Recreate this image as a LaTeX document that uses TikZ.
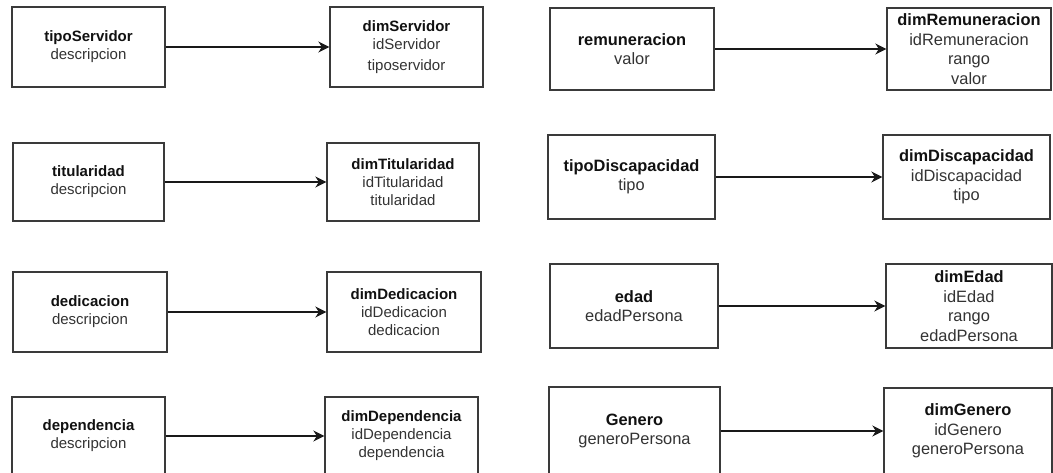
\documentclass[tikz,border=0pt]{standalone}
\usepackage{fontspec}
\setmainfont{Liberation Sans}
\usetikzlibrary{arrows.meta}
\definecolor{edge}{HTML}{3A3A3A}
\definecolor{txt}{HTML}{333333}
\definecolor{head}{HTML}{111111}
\newcommand{\hd}[1]{{\bfseries\color{head}#1}}
\tikzset{
  tbl/.style={draw=edge, line width=1.3pt, fill=white, rectangle, inner sep=0pt,
    align=center, text=txt},
  tblL/.style={tbl, font=\fontsize{15}{18}\selectfont},
  tblR/.style={tbl, font=\fontsize{16.4}{19.5}\selectfont},
  flow/.style={draw=black!90, line width=1.5pt,
    -{Stealth[length=11pt, width=11pt, inset=3.5pt]}}
}
\begin{document}
\begin{tikzpicture}[x=1pt, y=-1pt]
\useasboundingbox (0,0) rectangle (1053,472);
\clip (0,0) rectangle (1053,472);

% left column: source tables and their dimensions
\node[tblL, minimum width=153pt, minimum height=80pt] (ts) at (88.5,47)
  {\hd{tipoServidor}\\descripcion};
\node[tblL, minimum width=153pt, minimum height=80pt] (dts) at (406.5,47)
  {\hd{dimServidor}\\idServidor\\[3pt]tiposervidor};

\node[tblL, minimum width=151pt, minimum height=78pt] (tit) at (88.5,182)
  {\hd{titularidad}\\descripcion};
\node[tblL, minimum width=152pt, minimum height=78pt] (dtit) at (403,182)
  {\hd{dimTitularidad}\\idTitularidad\\titularidad};

\node[tblL, minimum width=154pt, minimum height=80pt] (ded) at (90,312)
  {\hd{dedicacion}\\descripcion};
\node[tblL, minimum width=154pt, minimum height=80pt] (dded) at (404,312)
  {\hd{dimDedicacion}\\idDedicacion\\dedicacion};

\node[tblL, minimum width=153pt, minimum height=78pt] (dep) at (88.5,436)
  {\hd{dependencia}\\descripcion};
\node[tblL, minimum width=153pt, minimum height=78pt] (ddep) at (401.5,436)
  {\hd{dimDependencia}\\idDependencia\\dependencia};

% right column
\node[tblR, minimum width=164pt, minimum height=82pt] (rem) at (632,49)
  {\hd{remuneracion}\\valor};
\node[tblR, minimum width=164pt, minimum height=82pt] (drem) at (969,49)
  {\hd{dimRemuneracion}\\idRemuneracion\\rango\\valor};

\node[tblR, minimum width=167pt, minimum height=84pt] (tdis) at (631.5,177)
  {\hd{tipoDiscapacidad}\\tipo};
\node[tblR, minimum width=167pt, minimum height=84pt] (ddis) at (966.5,177)
  {\hd{dimDiscapacidad}\\idDiscapacidad\\tipo};

\node[tblR, minimum width=168pt, minimum height=84pt] (edad) at (634,306)
  {\hd{edad}\\edadPersona};
\node[tblR, minimum width=166pt, minimum height=84pt] (dedad) at (969,306)
  {\hd{dimEdad}\\idEdad\\rango\\edadPersona};

\node[tblR, minimum width=171pt, minimum height=88pt] (gen) at (634.5,431)
  {\hd{Genero}\\generoPersona};
\node[tblR, minimum width=168pt, minimum height=86pt] (dgen) at (968,431)
  {\hd{dimGenero}\\idGenero\\generoPersona};

% transformations
\draw[flow] (ts) -- (dts);
\draw[flow] (tit) -- (dtit);
\draw[flow] (ded) -- (dded);
\draw[flow] (dep) -- (ddep);
\draw[flow] (rem) -- (drem);
\draw[flow] (tdis) -- (ddis);
\draw[flow] (edad) -- (dedad);
\draw[flow] (gen) -- (dgen);
\end{tikzpicture}
\end{document}
